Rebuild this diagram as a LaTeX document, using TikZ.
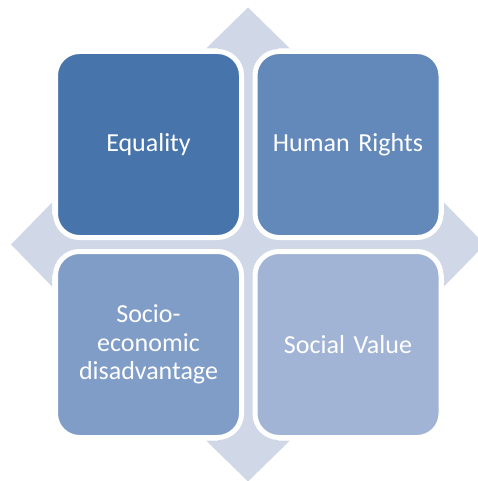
\documentclass[tikz,border=0pt]{standalone}
\usepackage{fontspec}
\setmainfont{Carlito}
\definecolor{crossfill}{RGB}{208,216,232}
\definecolor{tileA}{RGB}{71,116,170}
\definecolor{tileB}{RGB}{99,136,186}
\definecolor{tileC}{RGB}{128,157,199}
\definecolor{tileD}{RGB}{162,180,213}
\begin{document}
\begin{tikzpicture}[x=1pt,y=-1pt,
  tile/.style={draw=white, line width=5pt, rounded corners=24pt,
    minimum width=186pt, minimum height=186pt, inner sep=0pt,
    text=white, align=center, text width=170pt,
    font=\fontsize{26}{28.5}\selectfont}]
\useasboundingbox (0,0) rectangle (477,481);
% four-way arrow behind the tiles
\def\cx{248}\def\cy{244.5}
\fill[crossfill]
  (\cx,\cy-237) -- (\cx+42,\cy-196) -- (\cx+30,\cy-196) -- (\cx+30,\cy-30)
  -- (\cx+196,\cy-30) -- (\cx+196,\cy-42) -- (\cx+237,\cy) -- (\cx+196,\cy+42)
  -- (\cx+196,\cy+30) -- (\cx+30,\cy+30) -- (\cx+30,\cy+196) -- (\cx+42,\cy+196)
  -- (\cx,\cy+237) -- (\cx-42,\cy+196) -- (\cx-30,\cy+196) -- (\cx-30,\cy+30)
  -- (\cx-196,\cy+30) -- (\cx-196,\cy+42) -- (\cx-237,\cy) -- (\cx-196,\cy-42)
  -- (\cx-196,\cy-30) -- (\cx-30,\cy-30) -- (\cx-30,\cy-196) -- (\cx-42,\cy-196)
  -- cycle;
% the four tiles
\node[tile, fill=tileA] (equality) at (148.5,144.5) {Equality};
\node[tile, fill=tileB] (rights) at (348,144.5) {Human Rights};
\node[tile, fill=tileC] (socio) at (148.5,344.5) {Socio-\\economic\\disadvantage};
\node[tile, fill=tileD] (value) at (348,344.5) {Social Value};
\end{tikzpicture}
\end{document}
